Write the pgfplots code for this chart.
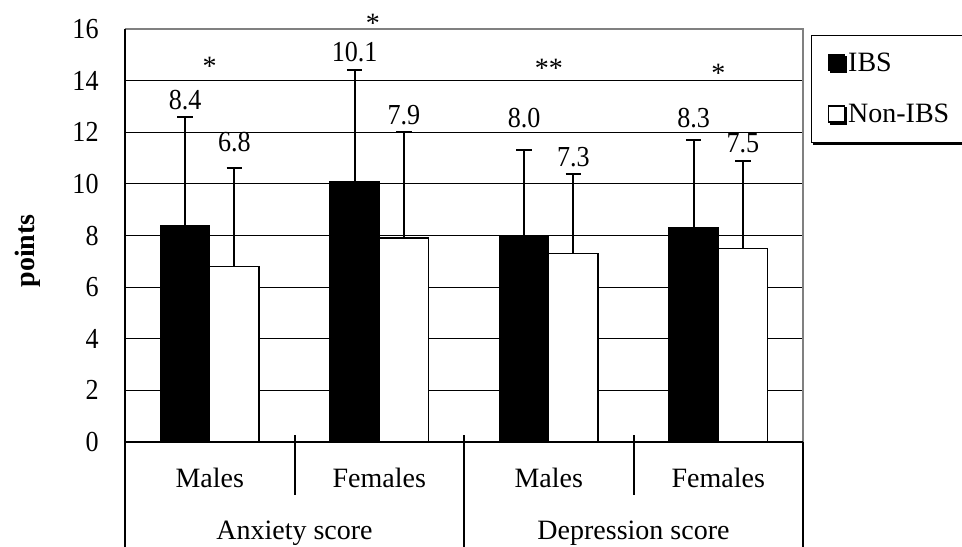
\documentclass[border=0pt]{standalone}
\usepackage{pgfplots}
\pgfplotsset{compat=1.18}
\usepackage{fontspec}
\setmainfont{Liberation Serif}
\newfontfamily\numfont{Liberation Serif}[FakeStretch=0.9]
\usetikzlibrary{shadows}

\begin{document}
\begin{tikzpicture}
\path[use as bounding box] (-62.5bp,-52.5bp) rectangle (418.5bp,221bp);
\begin{axis}[
 at={(0,0)}, anchor=south west,
 scale only axis, width=339bp, height=206.5bp,
 xmin=-0.5, xmax=3.5, ymin=0, ymax=16,
 ytick={0,2,...,16},
 xtick={0,1,2,3},
 xticklabels={Males,Females,Males,Females},
 major tick length=0pt,
 ymajorgrids, grid style={black, line width=0.5bp},
 axis line style={draw=none},
 ybar, bar width=0.29,
 clip=false,
 /pgf/number format/assume math mode=true,
 yticklabel style={font=\fontsize{14.5bp}{16bp}\numfont, anchor=east, inner sep=0pt, xshift=-13bp},
 xticklabel style={font=\fontsize{14bp}{16bp}\selectfont, anchor=base, inner sep=0pt, yshift=-22.5bp},
 legend style={at={(rel axis cs:1.0118,0.985)}, anchor=north west,
   draw=black, line width=0.6bp, fill=white,
   drop shadow={shadow xshift=0.9bp, shadow yshift=-0.9bp, fill=black, opacity=1},
   font=\fontsize{14bp}{16bp}\selectfont,
   nodes={inner sep=0pt, anchor=base west},
   inner xsep=8bp, inner ysep=8.5bp, row sep=15bp, column sep=1.5bp},
 legend cell align=left,
]
\addplot[fill=black, draw=black, line width=0.6bp, bar shift=-0.145,
  legend image code/.code={\draw[fill=black,draw=black,line width=0.6bp] (0bp,0.3bp) rectangle (8bp,8.5bp);},
  error bars/.cd, y dir=plus, y explicit,
  error bar style={line width=1bp, black},
  error mark options={rotate=90, line width=1bp, black, mark size=3.9bp}]
 coordinates {(0,8.4) +- (0,4.2) (1,10.1) +- (0,4.3) (2,8.0) +- (0,3.3) (3,8.3) +- (0,3.4)};
\addlegendentry{IBS}
\addplot[fill=white, draw=black, line width=0.6bp, bar shift=0.145,
  legend image code/.code={\draw[fill=white,draw=black,line width=0.8bp] (0bp,0.3bp) rectangle (8bp,8.5bp);},
  error bars/.cd, y dir=plus, y explicit,
  error bar style={line width=1bp, black},
  error mark options={rotate=90, line width=1bp, black, mark size=3.9bp}]
 coordinates {(0,6.8) +- (0,3.8) (1,7.9) +- (0,4.1) (2,7.3) +- (0,3.1) (3,7.5) +- (0,3.4)};
\addlegendentry{Non-IBS}

% value labels
\begin{scope}[every node/.style={font=\fontsize{14.5bp}{16bp}\numfont, inner sep=0pt}]
\node at (axis cs:-0.145,13.26) {8.4};
\node at (axis cs:0.145,11.63) {6.8};
\node at (axis cs:0.855,15.1) {10.1};
\node at (axis cs:1.145,12.67) {7.9};
\node at (axis cs:1.855,12.56) {8.0};
\node at (axis cs:2.145,11.05) {7.3};
\node at (axis cs:2.855,12.56) {8.3};
\node at (axis cs:3.145,11.59) {7.5};
\end{scope}
% significance stars
\begin{scope}[every node/.style={font=\fontsize{14bp}{16bp}\selectfont, inner sep=0pt}]
\node at (axis cs:0,14.55) {*};
\node at (axis cs:0.963,16.22) {*};
\node at (axis cs:2,14.46) {**};
\node at (axis cs:3,14.27) {*};
\end{scope}
% group labels
\node[anchor=base, inner sep=0pt, font=\fontsize{14bp}{16bp}\selectfont] at ([yshift=-48.5bp]axis cs:0.5,0) {Anxiety score};
\node[anchor=base, inner sep=0pt, font=\fontsize{14bp}{16bp}\selectfont] at ([yshift=-48.5bp]axis cs:2.5,0) {Depression score};
% y label
\node[rotate=90, inner sep=0pt, font=\bfseries\fontsize{14bp}{16bp}\selectfont] at (rel axis cs:-0.1431,0.4625) {points};
% table lines below
\draw[line width=1bp] ([yshift=3.5bp]axis cs:0.5,0) -- ([yshift=-26.5bp]axis cs:0.5,0);
\draw[line width=1bp] ([yshift=3.5bp]axis cs:2.5,0) -- ([yshift=-26.5bp]axis cs:2.5,0);
\draw[line width=1bp] ([yshift=3.5bp]axis cs:1.5,0) -- ([yshift=-52.5bp]axis cs:1.5,0);
\draw[line width=1bp] (axis cs:-0.5,0) -- ([yshift=-52.5bp]axis cs:-0.5,0);
\draw[line width=1bp] (axis cs:3.5,0) -- ([yshift=-52.5bp]axis cs:3.5,0);
% axis frame
\draw[gray, line width=1.1bp] (rel axis cs:0,1) -- (rel axis cs:1,1) -- (rel axis cs:1,0);
\draw[black, line width=1bp] (rel axis cs:0,0) -- (rel axis cs:0,1);
\draw[black, line width=1.2bp] (rel axis cs:0,0) -- (rel axis cs:1,0);
\end{axis}
\end{tikzpicture}
\end{document}
